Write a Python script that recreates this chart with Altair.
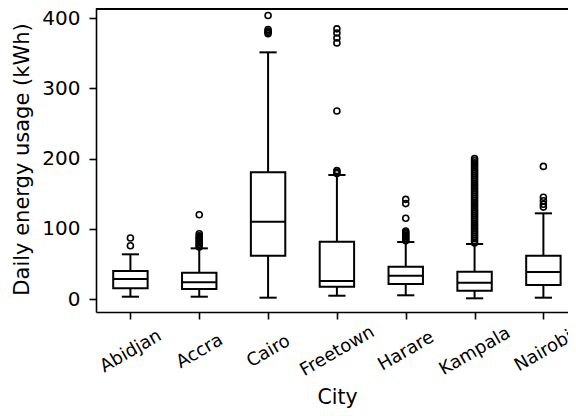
import altair as alt
import pandas as pd

# ---- data ----
cities = ["Abidjan", "Accra", "Cairo", "Freetown", "Harare", "Kampala", "Nairobi"]
q1 = [15.2, 14.2, 61.7, 17.5, 21.4, 11.8, 19.9]
median = [28.5, 23.8, 110.2, 25.6, 33.2, 23.2, 38.5]
q3 = [39.9, 37.5, 180.5, 81.7, 46.0, 38.9, 61.7]
whisker_low = [3.3, 3.3, 1.9, 4.7, 5.3, 1.0, 1.9]
whisker_high = [63.7, 72.2, 351.5, 176.7, 81.2, 78.4, 122.1]

outliers_abidjan = [76, 87]
outliers_accra = [74, 76, 78, 80, 82, 84, 86, 88, 90, 93, 120]
outliers_cairo = [378, 380, 382, 384, 404]
outliers_freetown = [179, 181, 183, 268, 365, 372, 379, 385]
outliers_harare = [83, 85, 87, 89, 91, 93, 95, 97, 115, 136, 142]
outliers_kampala = [80, 83, 86, 89, 92, 95, 98, 101, 104, 107, 110, 113, 116, 119,
                    122, 125, 128, 131, 134, 137, 140, 143, 146, 149, 152, 155, 158,
                    161, 164, 167, 170, 173, 176, 179, 182, 185, 188, 191, 194, 197, 200]
outliers_nairobi = [131, 135, 140, 145, 189]

y_ticks = [0, 100, 200, 300, 400]

# ---- tables ----
pos = list(range(1, len(cities) + 1))
box_df = pd.DataFrame({
    "city": cities, "pos": pos, "q1": q1, "median": median, "q3": q3,
    "lo": whisker_low, "hi": whisker_high,
})
out_lists = [outliers_abidjan, outliers_accra, outliers_cairo, outliers_freetown,
             outliers_harare, outliers_kampala, outliers_nairobi]
out_rows = []
for p, c, vals in zip(pos, cities, out_lists):
    for v in vals:
        out_rows.append({"city": c, "pos": p, "value": v})
out_df = pd.DataFrame(out_rows)

W, H = 472, 304
FONT = "DejaVu Sans"
LW = 2

label_expr = "[" + ",".join(f"'{c}'" for c in cities) + "][datum.value - 1]"

x_scale = alt.Scale(domain=[0.5, 0.5 + W / 68.83], nice=False, zero=False)
y_scale = alt.Scale(domain=[-18.5, 414.7], nice=False, zero=False)

x_axis = alt.Axis(
    values=pos, labelExpr=label_expr, title="City", grid=False,
    tickSize=7, tickWidth=1.6, domainWidth=1.6, domainColor="black", tickColor="black",
    labelAngle=-30, labelAlign="center", labelBaseline="middle", labelPadding=32,
    labelFontSize=18, labelFont=FONT, labelColor="black", labelOverlap=False, labelFlush=False,
    titleFontSize=20.5, titleFont=FONT, titleFontWeight="normal", titleColor="black",
    titleX=241, titleY=91, titleBaseline="alphabetic", titleAlign="center",
)
y_axis = alt.Axis(
    values=y_ticks, title="Daily energy usage (kWh)", grid=False,
    tickSize=7, tickWidth=1.6, domainWidth=1.6, domainColor="black", tickColor="black",
    labelFontSize=20, labelFont=FONT, labelColor="black", labelPadding=9,
    titleFontSize=21, titleFont=FONT, titleFontWeight="normal", titleColor="black",
    titleX=-64, titleY=151, titleAlign="center", titleBaseline="bottom", titleAngle=270,
)

base = alt.Chart(box_df).transform_calculate(
    xl="datum.pos - 0.25", xr="datum.pos + 0.25",
    cl="datum.pos - 0.125", cr="datum.pos + 0.125",
)

axes_layer = base.mark_rule(opacity=0).encode(
    x=alt.X("pos:Q", scale=x_scale, axis=x_axis),
    y=alt.Y("median:Q", scale=y_scale, axis=y_axis),
)

whisk_low = base.mark_rule(color="black", strokeWidth=LW).encode(
    x="pos:Q", y="lo:Q", y2="q1:Q")
whisk_high = base.mark_rule(color="black", strokeWidth=LW).encode(
    x="pos:Q", y="q3:Q", y2="hi:Q")
cap_low = base.mark_rule(color="black", strokeWidth=LW).encode(
    x="cl:Q", x2="cr:Q", y="lo:Q")
cap_high = base.mark_rule(color="black", strokeWidth=LW).encode(
    x="cl:Q", x2="cr:Q", y="hi:Q")
boxes = base.mark_rect(fill="white", stroke="black", strokeWidth=LW).encode(
    x="xl:Q", x2="xr:Q", y="q1:Q", y2="q3:Q")
medians = base.mark_rule(color="black", strokeWidth=LW).encode(
    x="xl:Q", x2="xr:Q", y="median:Q")

points = alt.Chart(out_df).mark_point(
    shape="circle", filled=False, stroke="black", strokeWidth=1.6, size=36, opacity=1
).encode(x="pos:Q", y="value:Q")

top_spine = alt.Chart(box_df).mark_rule(color="black", strokeWidth=1.6).encode(
    x=alt.value(0), x2=alt.value(W + 20), y=alt.value(0.8))

chart = alt.layer(
    axes_layer, whisk_low, whisk_high, cap_low, cap_high, boxes, medians, points, top_spine
).properties(
    width=W, height=H,
    autosize=alt.AutoSizeParams(type="none"),
    padding={"left": 88, "top": 0, "right": 0, "bottom": 96},
    background="white",
).configure_view(stroke=None).configure(font=FONT)

chart.save("out.html", embed_options={"renderer": "svg", "actions": False})
